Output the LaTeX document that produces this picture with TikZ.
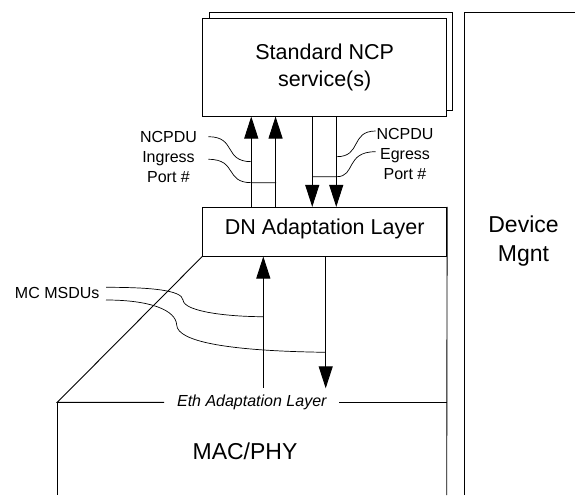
\documentclass[tikz,border=0pt]{standalone}
\usepackage{fontspec}
\setmainfont{Liberation Sans}
\usetikzlibrary{arrows.meta}

\begin{document}
\begin{tikzpicture}[x=1pt, y=-1pt, line width=0.9pt,
    layer/.style={draw, fill=white, minimum width=244pt, inner sep=0pt},
    bigtext/.style={font=\fontsize{21.5}{26.7}\selectfont, align=center},
    hugetext/.style={font=\fontsize{23}{29.3}\selectfont, align=center},
    labeltext/.style={font=\fontsize{16}{20}\selectfont, align=center},
    flow/.style={-{Triangle[length=22pt,width=14pt]}}]
\useasboundingbox (0,0) rectangle (575,495);
\draw (209.3,110) rectangle (452.7,12.7);
\node[layer, bigtext, minimum height=97.7pt] (ncp) at (324.7,67.2) {Standard NCP\\service(s)};
\node[layer, bigtext, minimum height=48.7pt, text height=15.5pt, text depth=10pt] (dn) at (324.7,231.7) {DN Adaptation Layer};
\coordinate (devbl) at (464.3,495);
\coordinate (devtl) at (464.3,12.7);
\coordinate (devtr) at (575,12.7);
\draw (devbl) -- (devtl) -- (devtr);
\node[hugetext] (dev) at (523.5,241.3) {Device\\Mgnt};
\coordinate (macnw) at (57.3,402.3);
\coordinate (macne) at (446.7,402.3);
\coordinate (macsw) at (57.3,495);
\coordinate (macse) at (446.7,495);
\node[labeltext, font=\fontsize{16}{20}\selectfont\itshape, inner xsep=12.5pt] (eth) at (251.8,402.3) {Eth Adaptation Layer};
\draw (dn.south west) -- (macnw) -- (eth.west);
\draw (eth.east) -- (macne);
\draw (macnw) -- (macsw);
\draw (dn.north east) -- (macse);
\node[hugetext] (mac) at (245,451.7) {MAC/PHY};
\draw[flow] ([xshift=49pt]dn.north west) -- ([xshift=49pt]ncp.south west);
\draw[flow] ([xshift=73.3pt]dn.north west) -- ([xshift=73.3pt]ncp.south west);
\draw[flow] ([xshift=110pt]ncp.south west) -- ([xshift=110pt]dn.north west);
\draw[flow] ([xshift=134pt]ncp.south west) -- ([xshift=134pt]dn.north west);
\coordinate (mcup) at (263.3,387.7);
\coordinate (mcdn) at (325.7,388.3);
\draw[flow] (mcup) -- (dn.south west -| mcup);
\draw[flow] (dn.south west -| mcdn) -- (mcdn);
\node[labeltext] (ingress) at (168.5,157) {NCPDU\\Ingress\\Port \#};
\node[labeltext] (egress) at (405,154.3) {NCPDU\\Egress\\Port \#};
\node[labeltext] (msdu) at (57.2,292.7) {MC MSDUs};
\coordinate (i1) at (208.3,136.7);
\coordinate (i2) at (208.3,159.3);
\coordinate (j1) at (251.7,161.7);
\coordinate (j2) at (251.7,182.7);
\coordinate (j3) at (276,182.7);
\coordinate (e1) at (375.7,131);
\coordinate (e2) at (375.7,151.7);
\coordinate (k1) at (336.7,156.7);
\coordinate (k2) at (336.7,176.7);
\coordinate (k3) at (312.7,176.7);
\coordinate (m1) at (106,287.3);
\coordinate (m2) at (106,300);
\coordinate (n1) at (263.3,316.7);
\coordinate (n2) at (325.7,352.3);
\draw[line width=0.7pt] (i1) .. controls (237,136.7) and (223,161.7) .. (j1);
\draw[line width=0.7pt] (i2) .. controls (238,159.3) and (224,182.7) .. (j2) -- (j3);
\draw[line width=0.7pt] (e1) .. controls (350,131) and (362,156.7) .. (k1);
\draw[line width=0.7pt] (e2) .. controls (345,151.7) and (356,176.7) .. (k2) -- (k3);
\draw[line width=0.7pt] (m1) .. controls (150,287.3) and (182,290) .. (183,300) .. controls (184,312) and (230,316.7) .. (n1);
\draw[line width=0.7pt] (m2) .. controls (150,300) and (176,310) .. (176.7,325) .. controls (177.5,342) and (230,351) .. (n2);
\end{tikzpicture}
\end{document}
